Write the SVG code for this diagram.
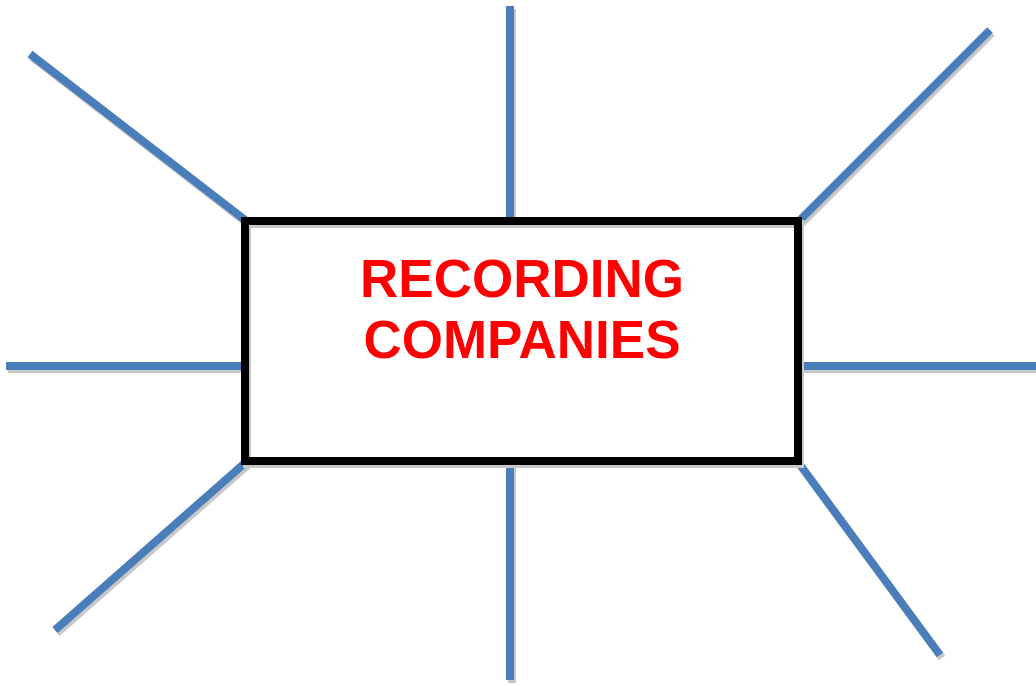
<svg xmlns="http://www.w3.org/2000/svg" width="1036" height="686" viewBox="0 0 1036 686">
<style>
.sh{stroke:#c8c8c8;stroke-width:8;fill:none}
.ln{stroke:#4a7ebb;stroke-width:8;fill:none}
.t{font-family:"Liberation Sans",Arial,sans-serif;font-weight:bold;font-size:53px;fill:#ff0000;text-anchor:middle}
</style>
<rect width="1036" height="686" fill="#ffffff"/>
<g id="connectors">
<g transform="translate(2,3)">
<line class="sh" x1="30" y1="54" x2="245" y2="220"/>
<line class="sh" x1="510" y1="6" x2="510" y2="220"/>
<line class="sh" x1="990" y1="30" x2="800" y2="220"/>
<line class="sh" x1="6" y1="366" x2="246" y2="366"/>
<line class="sh" x1="800" y1="366" x2="1036" y2="366"/>
<line class="sh" x1="246" y1="462" x2="55" y2="630"/>
<line class="sh" x1="510" y1="462" x2="510" y2="680"/>
<line class="sh" x1="798" y1="462" x2="940" y2="655"/>
</g>
<line class="ln" x1="30" y1="54" x2="245" y2="220"/>
<line class="ln" x1="510" y1="6" x2="510" y2="220"/>
<line class="ln" x1="990" y1="30" x2="800" y2="220"/>
<line class="ln" x1="6" y1="366" x2="246" y2="366"/>
<line class="ln" x1="800" y1="366" x2="1036" y2="366"/>
<line class="ln" x1="246" y1="462" x2="55" y2="630"/>
<line class="ln" x1="510" y1="462" x2="510" y2="680"/>
<line class="ln" x1="798" y1="462" x2="940" y2="655"/>
</g>
<g id="recording-companies">
<rect x="247" y="224" width="553" height="240" fill="none" stroke="#c8c8c8" stroke-width="8"/>
<rect x="245" y="221" width="553" height="240" fill="none" stroke="#000000" stroke-width="8"/>
<text class="t" x="522" y="297">RECORDING</text>
<text class="t" x="522" y="358">COMPANIES</text>
</g>
</svg>
